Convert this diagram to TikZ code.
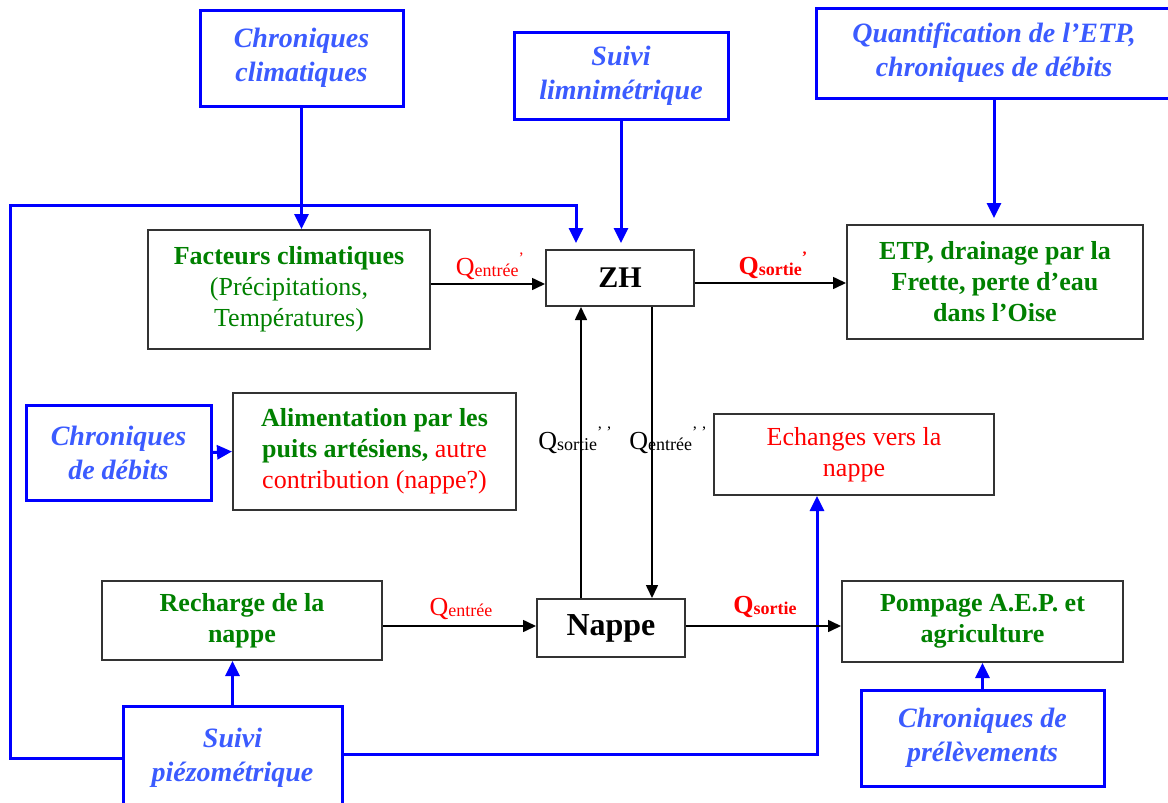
\documentclass[tikz,border=0pt]{standalone}
\usepackage{fontspec}
\setmainfont{Liberation Serif}
\usetikzlibrary{arrows.meta,calc}
\definecolor{bbord}{RGB}{0,0,255}
\definecolor{btext}{RGB}{59,91,255}
\definecolor{gtext}{RGB}{0,128,0}
\definecolor{rtext}{RGB}{255,0,0}
\newcommand{\qlabel}[2]{Q\raisebox{-0.5pt}{\fontsize{9}{9}\selectfont #1}\raisebox{6pt}{\fontsize{8}{8}\selectfont #2}}
\begin{document}
\begin{tikzpicture}[x=0.5pt,y=-0.5pt,
  bluebox/.style={draw=bbord, line width=1.5pt, inner sep=0pt, align=center, text=btext,
    font=\fontsize{14}{17}\selectfont\bfseries\itshape},
  blackbox/.style={draw=black!80, line width=1pt, inner sep=0pt, align=center,
    font=\fontsize{13}{15.5}\selectfont},
  barrow/.style={draw=bbord, line width=1.5pt, -{Triangle[length=7.5pt,width=7pt]}},
  karrow/.style={draw=black, line width=0.8pt, -{Triangle[length=6.5pt,width=6pt]}},
  qlab/.style={inner sep=0pt, font=\fontsize{13}{13}\selectfont}
]
\useasboundingbox (0,0) rectangle (1168,803);

% blue (data) boxes
\node[bluebox, minimum width=101.5pt, minimum height=48pt] (cc) at (301.5,58) {Chroniques\\climatiques};
\node[bluebox, minimum width=107pt, minimum height=43.5pt] (sl) at (621,75.5) {Suivi\\limnimétrique};
\node[bluebox, minimum width=178pt, minimum height=45pt] (qe) at (994,53) {Quantification de l’ETP,\\chroniques de débits};
\node[bluebox, minimum width=92.5pt, minimum height=47.5pt] (cd) at (118.5,452.5) {Chroniques\\de débits};
\node[bluebox, minimum width=109.5pt, minimum height=52pt] (sp) at (232.5,758) {Suivi\\piézométrique};
\node[bluebox, minimum width=121.5pt, minimum height=48pt] (cp) at (982.5,738) {Chroniques de\\prélèvements};

% black (process) boxes
\node[blackbox, minimum width=141pt, minimum height=59.5pt, text=gtext] (fc) at (289,289.5)
  {\textbf{Facteurs climatiques}\\(Précipitations,\\Températures)};
\node[blackbox, minimum width=74pt, minimum height=28pt, font=\fontsize{15}{15}\selectfont\bfseries] (zh) at (620,278) {ZH};
\node[blackbox, minimum width=148pt, minimum height=57pt, text=gtext, font=\fontsize{13}{15.5}\selectfont\bfseries] (etp) at (995,282)
  {ETP, drainage par la\\Frette, perte d’eau\\dans l’Oise};
\node[blackbox, minimum width=141.5pt, minimum height=58.5pt] (al) at (374.5,451.5)
  {\textcolor{gtext}{\textbf{Alimentation par les}}\\\textcolor{gtext}{\textbf{puits artésiens,}} \textcolor{rtext}{autre}\\\textcolor{rtext}{contribution (nappe?)}};
\node[blackbox, minimum width=140pt, minimum height=40.5pt, text=rtext] (ech) at (854,454.5) {Echanges vers la\\nappe};
\node[blackbox, minimum width=140pt, minimum height=39.5pt, text=gtext, font=\fontsize{13}{15.5}\selectfont\bfseries] (rech) at (242,620.5) {Recharge de la\\nappe};
\node[blackbox, minimum width=74pt, minimum height=29pt, font=\fontsize{16}{16}\selectfont\bfseries] (nappe) at (611,628) {Nappe};
\node[blackbox, minimum width=140.5pt, minimum height=40.5pt, text=gtext, font=\fontsize{13}{15.5}\selectfont\bfseries] (pomp) at (982.5,621.5) {Pompage A.E.P. et\\agriculture};

% blue connectors
\draw[barrow] (cc.south) -- (fc.north -| cc.south);
\draw[barrow] (sl.south) -- ($(zh.north -| sl.south)+(0,-6)$);
\draw[barrow] (qe.south) -- ($(etp.north -| qe.south)+(0,-6)$);
\draw[barrow] (cd.east) -- (al.west);
\draw[barrow] (sp.north) -- (rech.south -| sp.north);
\draw[barrow] (cp.north) -- (pomp.south -| cp.north);
\coordinate (lb) at (10,758);
\coordinate (lt) at (10,205);
\coordinate (rt) at (576,205);
\draw[barrow] (sp.west) -- (lb) -- (lt) -- (rt) -- ($(rt |- zh.north)+(0,-6)$);
\coordinate (rb) at (817,754);
\draw[barrow] (sp.east |- rb) -- (rb) -- (rb |- ech.south);

% black connectors
\coordinate (up) at (581,0);
\coordinate (dn) at (652,0);
\draw[karrow] ($(fc.east |- zh.west)+(0,6)$) -- ($(zh.west)+(0,6)$);
\draw[karrow] ($(zh.east)+(0,5)$) -- ($(etp.west |- zh.east)+(0,5)$);
\draw[karrow] (nappe.north -| up) -- (zh.south -| up);
\draw[karrow] (zh.south -| dn) -- (nappe.north -| dn);
\draw[karrow] ($(rech.east |- nappe.west)+(0,-2)$) -- ($(nappe.west)+(0,-2)$);
\draw[karrow] ($(nappe.east)+(0,-2)$) -- ($(pomp.west |- nappe.east)+(0,-2)$);

% flow labels
\node[qlab, text=rtext] (q1) at (490,266) {\qlabel{entrée}{’}};
\node[qlab, text=rtext, font=\fontsize{13}{13}\selectfont\bfseries] (q2) at (773,265) {\qlabel{sortie}{’}};
\node[qlab] (q3) at (575,440) {\qlabel{sortie}{’ ’}};
\node[qlab] (q4) at (668,440) {\qlabel{entrée}{’ ’}};
\node[qlab, text=rtext] (q5) at (461,609) {\qlabel{entrée}{}};
\node[qlab, text=rtext, font=\fontsize{13}{13}\selectfont\bfseries] (q6) at (765,607) {\qlabel{sortie}{}};
\end{tikzpicture}
\end{document}
